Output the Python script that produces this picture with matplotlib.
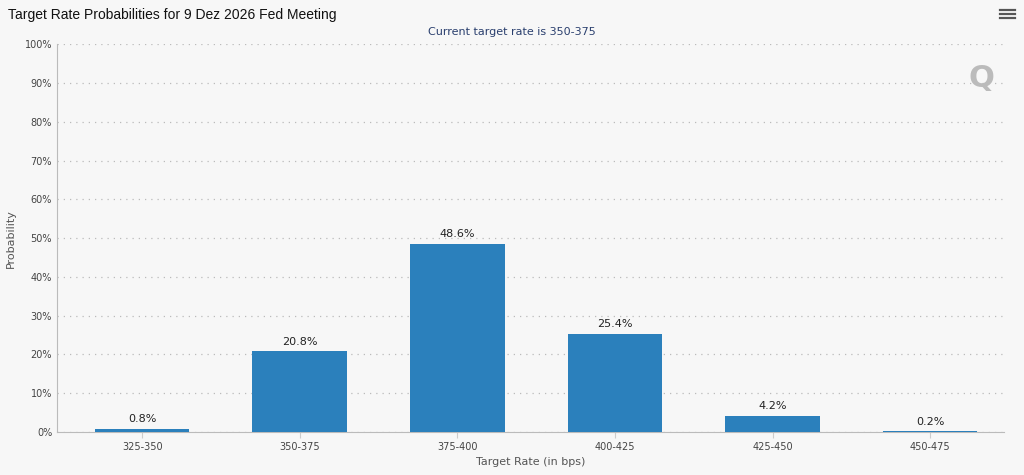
import matplotlib.pyplot as plt
import numpy as np

categories = ['325-350', '350-375', '375-400', '400-425', '425-450', '450-475']
probs = [0.8, 20.8, 48.6, 25.4, 4.2, 0.2]
yticks = list(range(0, 101, 10))

fig = plt.figure(figsize=(10.24, 4.75), dpi=100)
fig.patch.set_facecolor('#f7f7f7')
ax = fig.add_axes([0.0557, 0.0905, 0.925, 0.8165])
ax.set_facecolor('#f7f7f7')

x = np.arange(len(categories))
bars = ax.bar(x, probs, width=0.6, color='#2b80bc', zorder=3)
for xi, p in zip(x, probs):
    ax.text(xi, p + 1.2, f'{p}%', ha='center', va='bottom', fontsize=8, color='#222222')

ax.set_xlim(-0.54, len(categories) - 0.53)
ax.set_ylim(0, 100)
ax.set_yticks(yticks)
ax.set_yticklabels([f'{t}%' for t in yticks])
ax.set_xticks(x)
ax.set_xticklabels(categories)
ax.tick_params(axis='both', labelsize=7, colors='#444444', length=0)
ax.tick_params(axis='x', length=4, color='#cccccc')
ax.grid(axis='y', linestyle=(0, (1, 4)), color='#bbbbbb', linewidth=0.9, zorder=0)
for s in ['top', 'right']:
    ax.spines[s].set_visible(False)
ax.spines['left'].set_color('#bbbbbb')
ax.spines['bottom'].set_color('#bbbbbb')

ax.set_xlabel('Target Rate (in bps)', fontsize=8, color='#555555', labelpad=3)
ax.set_ylabel('Probability', fontsize=8, color='#555555', labelpad=6)

fig.text(0.008, 0.968, 'Target Rate Probabilities for 9 Dez 2026 Fed Meeting',
         fontsize=10, color='#111111', va='center', family='Liberation Sans')
fig.text(0.5, 0.933, 'Current target rate is 350-375', fontsize=8,
         color='#2a3f6e', ha='center', va='center')

# menu icon
for dy in (0.962, 0.970, 0.978):
    fig.add_artist(plt.Line2D([0.977, 0.991], [dy, dy], color='#555555', lw=1.6))
# watermark Q
fig.text(0.958, 0.835, 'Q', fontsize=22, fontweight='bold', color='#bbbbbb', ha='center', va='center')

fig.savefig('out.png', dpi=100, facecolor=fig.get_facecolor())
